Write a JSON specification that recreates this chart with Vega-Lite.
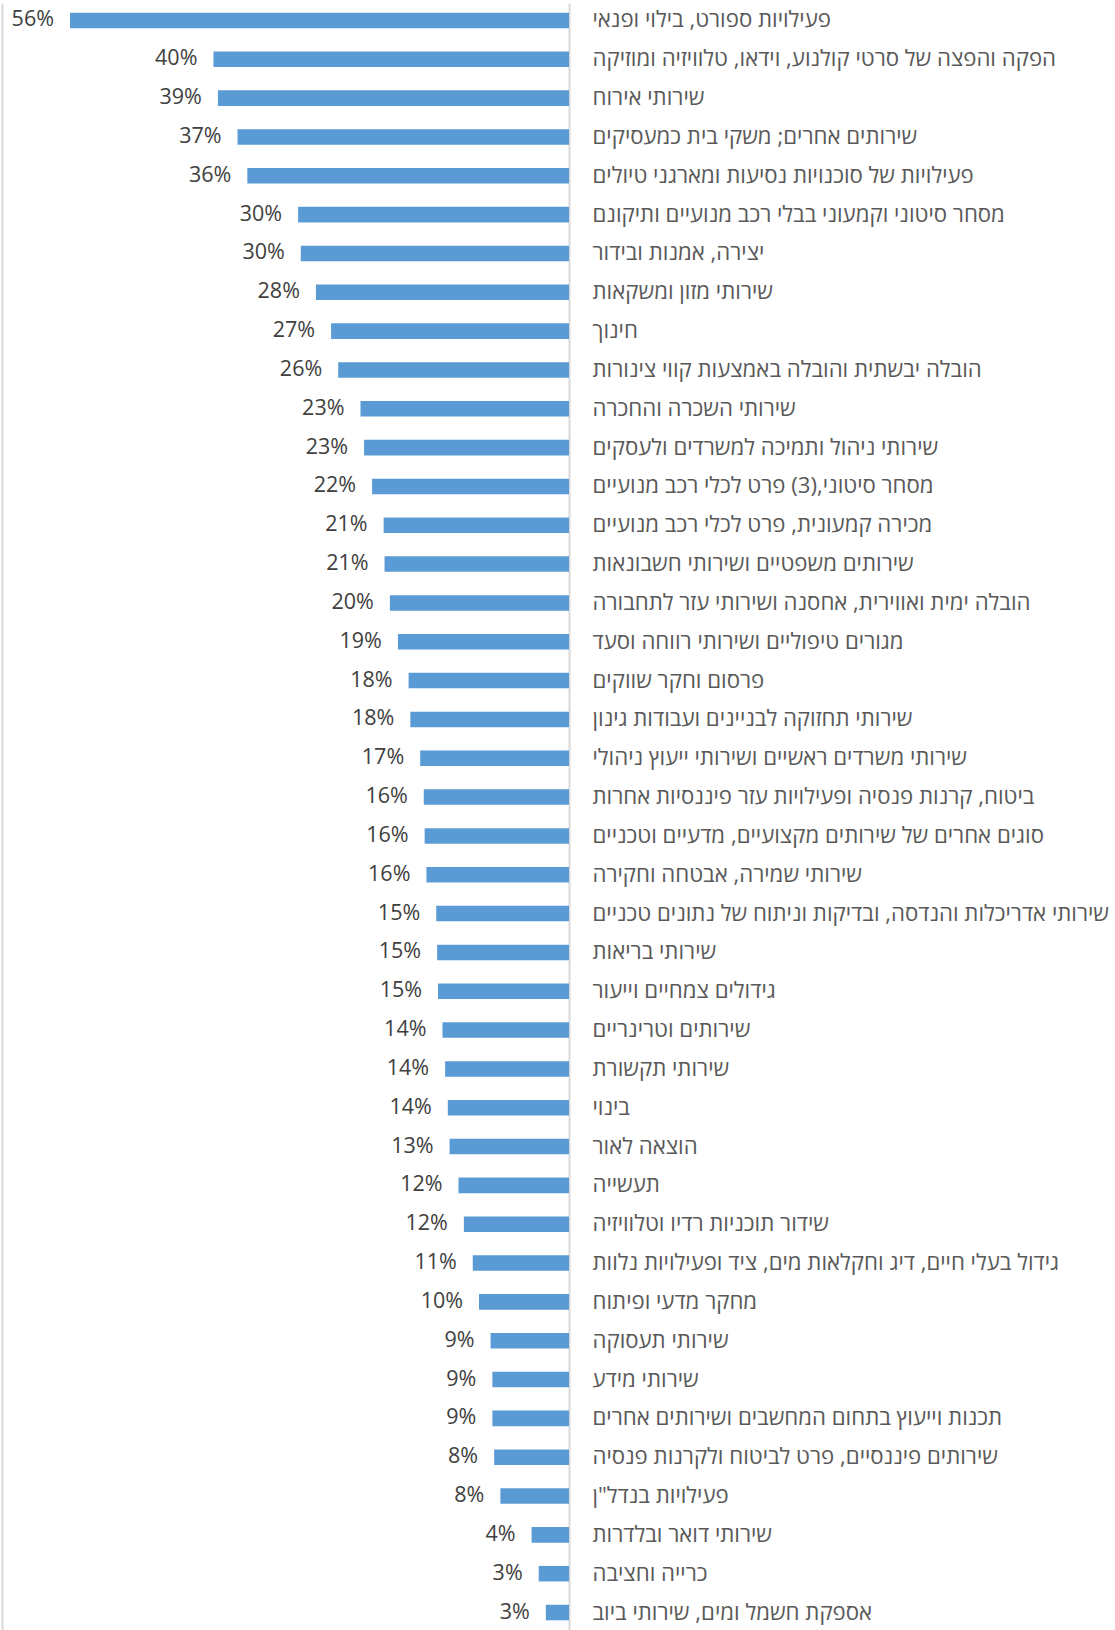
{
  "$schema": "https://vega.github.io/schema/vega-lite/v6.json",
  "width": 567,
  "height": 1627,
  "autosize": {"type": "none"},
  "padding": {"left": 2, "top": 3, "right": 546, "bottom": 0},
  "background": "white",
  "config": {
    "view": {"stroke": null},
    "font": "Open Sans"
  },
  "data": {
    "values": [
      {"branch": "פעילויות ספורט, בילוי ופנאי", "share": 0.56},
      {"branch": "הפקה והפצה של סרטי קולנוע, וידאו, טלוויזיה ומוזיקה", "share": 0.399},
      {"branch": "שירותי אירוח", "share": 0.394},
      {"branch": "שירותים אחרים; משקי בית כמעסיקים", "share": 0.372},
      {"branch": "פעילויות של סוכנויות נסיעות ומארגני טיולים", "share": 0.361},
      {"branch": "מסחר סיטוני וקמעוני בבלי רכב  מנועיים ותיקונם", "share": 0.304},
      {"branch": "יצירה, אמנות ובידור", "share": 0.301},
      {"branch": "שירותי מזון ומשקאות", "share": 0.284},
      {"branch": "חינוך", "share": 0.267},
      {"branch": "הובלה יבשתית והובלה באמצעות קווי צינורות", "share": 0.259},
      {"branch": "שירותי השכרה והחכרה", "share": 0.234},
      {"branch": "שירותי ניהול ותמיכה למשרדים ולעסקים", "share": 0.23},
      {"branch": "מסחר סיטוני,(3) פרט לכלי רכב  מנועיים", "share": 0.221},
      {"branch": "מכירה קמעונית, פרט לכלי רכב מנועיים", "share": 0.208},
      {"branch": "שירותים משפטיים ושירותי חשבונאות", "share": 0.207},
      {"branch": "הובלה ימית ואווירית, אחסנה ושירותי עזר לתחבורה", "share": 0.201},
      {"branch": "מגורים טיפוליים ושירותי רווחה וסעד", "share": 0.192},
      {"branch": "פרסום וחקר שווקים", "share": 0.18},
      {"branch": "שירותי תחזוקה לבניינים ועבודות גינון", "share": 0.178},
      {"branch": "שירותי משרדים ראשיים  ושירותי ייעוץ ניהולי", "share": 0.167},
      {"branch": "ביטוח, קרנות פנסיה  ופעילויות עזר פיננסיות אחרות", "share": 0.163},
      {"branch": "סוגים אחרים של שירותים מקצועיים, מדעיים וטכניים", "share": 0.162},
      {"branch": "שירותי שמירה, אבטחה וחקירה", "share": 0.16},
      {"branch": "שירותי אדריכלות והנדסה,  ובדיקות וניתוח של נתונים טכניים", "share": 0.149},
      {"branch": "שירותי בריאות", "share": 0.148},
      {"branch": "גידולים צמחיים וייעור", "share": 0.147},
      {"branch": "שירותים וטרינריים", "share": 0.142},
      {"branch": "שירותי תקשורת", "share": 0.139},
      {"branch": "בינוי", "share": 0.136},
      {"branch": "הוצאה לאור", "share": 0.134},
      {"branch": "תעשייה", "share": 0.124},
      {"branch": "שידור תוכניות רדיו וטלוויזיה", "share": 0.118},
      {"branch": "גידול בעלי חיים, דיג וחקלאות מים, ציד ופעילויות נלוות", "share": 0.108},
      {"branch": "מחקר מדעי ופיתוח", "share": 0.101},
      {"branch": "שירותי תעסוקה", "share": 0.088},
      {"branch": "שירותי מידע", "share": 0.086},
      {"branch": "תכנות וייעוץ בתחום המחשבים ושירותים אחרים", "share": 0.086},
      {"branch": "שירותים פיננסיים, פרט לביטוח ולקרנות פנסיה", "share": 0.084},
      {"branch": "פעילויות בנדל\"ן", "share": 0.077},
      {"branch": "שירותי דואר ובלדרות", "share": 0.042},
      {"branch": "כרייה וחציבה", "share": 0.034},
      {"branch": "אספקת חשמל ומים, שירותי ביוב", "share": 0.026}
    ]
  },
  "encoding": {
    "y": {
      "field": "branch",
      "type": "nominal",
      "sort": null,
      "scale": {"paddingInner": 0.6, "paddingOuter": 0.25}
    },
    "x": {
      "field": "share",
      "type": "quantitative",
      "scale": {"domain": [0, 0.6363], "reverse": true, "nice": false},
      "axis": null
    }
  },
  "layer": [
    {
      "mark": {"type": "bar", "color": "#5B9BD5"},
      "encoding": {
        "y": {
          "field": "branch",
          "type": "nominal",
          "sort": null,
          "axis": {
            "orient": "right",
            "title": null,
            "ticks": false,
            "domainColor": "#D9D9D9",
            "domainWidth": 2,
            "labelAlign": "left",
            "labelPadding": 23,
            "labelLimit": 0,
            "labelFont": "Open Sans",
            "labelFontSize": 22.2,
            "labelColor": "#595959"
          }
        }
      }
    },
    {
      "mark": {
        "type": "text",
        "align": "right",
        "baseline": "middle",
        "dx": -16,
        "fontSize": 21.5,
        "color": "#404040"
      },
      "encoding": {
        "y": {
          "field": "branch",
          "type": "nominal",
          "sort": null,
          "axis": {
            "orient": "left",
            "title": null,
            "ticks": false,
            "labels": false,
            "domainColor": "#D9D9D9",
            "domainWidth": 2
          }
        },
        "text": {"field": "share", "type": "quantitative", "format": ".0%"}
      }
    }
  ],
  "resolve": {"axis": {"y": "independent"}}
}
